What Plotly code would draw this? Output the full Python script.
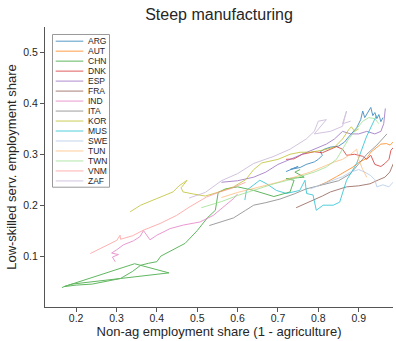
import plotly.graph_objects as go

countries = ["ARG", "AUT", "CHN", "DNK", "ESP", "FRA", "IND", "ITA", "KOR", "MUS",
             "SWE", "TUN", "TWN", "VNM", "ZAF"]
colors = ["#1f77b4", "#ff7f0e", "#2ca02c", "#d62728", "#9467bd", "#8c564b", "#e377c2",
          "#7f7f7f", "#bcbd22", "#17becf", "#aec7e8", "#ffbb78", "#98df8a", "#ff9896", "#c5b0d5"]

ARG_x = [0.72, 0.74, 0.75, 0.73, 0.755, 0.77, 0.79, 0.80, 0.81, 0.805, 0.815, 0.83, 0.85, 0.865,
         0.875, 0.885, 0.895, 0.905, 0.91, 0.915, 0.92, 0.925, 0.93, 0.935, 0.94, 0.945, 0.95, 0.955, 0.96]
ARG_y = [0.266, 0.272, 0.276, 0.270, 0.274, 0.280, 0.285, 0.290, 0.298, 0.305, 0.310, 0.314, 0.316, 0.324,
         0.334, 0.342, 0.352, 0.368, 0.385, 0.372, 0.378, 0.384, 0.392, 0.376, 0.382, 0.370, 0.378, 0.364, 0.372]

AUT_x = [0.80, 0.82, 0.845, 0.865, 0.886, 0.90, 0.91, 0.92, 0.93, 0.944, 0.955, 0.969, 0.978, 0.985]
AUT_y = [0.238, 0.245, 0.256, 0.266, 0.275, 0.284, 0.288, 0.292, 0.304, 0.314, 0.320, 0.321, 0.318, 0.324]

CHN_x = [0.165, 0.17, 0.345, 0.43, 0.31, 0.19, 0.17, 0.20, 0.24, 0.28, 0.31, 0.34, 0.36, 0.38, 0.40,
         0.41, 0.44, 0.47, 0.50, 0.525, 0.545, 0.548, 0.552, 0.57, 0.60, 0.64, 0.69, 0.73, 0.74,
         0.72, 0.765, 0.742, 0.755]
CHN_y = [0.038, 0.040, 0.085, 0.067, 0.056, 0.045, 0.040, 0.043, 0.045, 0.052, 0.056, 0.070, 0.082, 0.086,
         0.089, 0.100, 0.112, 0.125, 0.150, 0.175, 0.190, 0.205, 0.225, 0.232, 0.236, 0.229, 0.217,
         0.226, 0.249, 0.252, 0.255, 0.265, 0.270]

DNK_x = [0.72, 0.74, 0.76, 0.79, 0.81, 0.83, 0.845, 0.86, 0.87, 0.89, 0.91, 0.92, 0.93, 0.94,
         0.955, 0.965, 0.975, 0.98, 0.988]
DNK_y = [0.290, 0.291, 0.300, 0.305, 0.303, 0.310, 0.315, 0.310, 0.298, 0.300, 0.296, 0.290, 0.298,
         0.280, 0.276, 0.282, 0.290, 0.308, 0.315]

ESP_x = [0.56, 0.60, 0.64, 0.67, 0.70, 0.73, 0.76, 0.79, 0.82, 0.84, 0.86, 0.88, 0.90, 0.92,
         0.94, 0.955, 0.962, 0.966]
ESP_y = [0.245, 0.248, 0.255, 0.265, 0.280, 0.290, 0.300, 0.310, 0.320, 0.330, 0.345, 0.340, 0.340,
         0.345, 0.340, 0.345, 0.360, 0.390]

FRA_x = [0.745, 0.76, 0.788, 0.81, 0.83, 0.87, 0.90, 0.928, 0.95, 0.965, 0.977, 0.986]
FRA_y = [0.195, 0.200, 0.210, 0.218, 0.226, 0.236, 0.238, 0.242, 0.250, 0.255, 0.265, 0.282]

IND_x = [0.297, 0.29, 0.305, 0.288, 0.30, 0.317, 0.342, 0.358, 0.367, 0.383, 0.40, 0.433, 0.466,
         0.507, 0.54, 0.573, 0.59, 0.60]
IND_y = [0.089, 0.098, 0.103, 0.106, 0.112, 0.122, 0.130, 0.138, 0.150, 0.132, 0.141, 0.154, 0.161,
         0.167, 0.180, 0.203, 0.213, 0.222]

ITA_x = [0.53, 0.56, 0.59, 0.62, 0.64, 0.67, 0.705, 0.74, 0.77, 0.81, 0.85, 0.88, 0.90, 0.92,
         0.945, 0.96, 0.97]
ITA_y = [0.160, 0.168, 0.175, 0.190, 0.200, 0.205, 0.212, 0.222, 0.232, 0.240, 0.248, 0.262, 0.280,
         0.300, 0.318, 0.330, 0.340]

KOR_x = [0.334, 0.36, 0.40, 0.44, 0.455, 0.475, 0.46, 0.465, 0.49, 0.52, 0.55, 0.59, 0.62, 0.64,
         0.66, 0.70, 0.73, 0.755, 0.78, 0.81, 0.84, 0.86, 0.875, 0.882, 0.89, 0.90]
KOR_y = [0.187, 0.200, 0.213, 0.226, 0.238, 0.249, 0.234, 0.226, 0.222, 0.218, 0.225, 0.236, 0.250,
         0.270, 0.283, 0.290, 0.300, 0.304, 0.304, 0.308, 0.314, 0.330, 0.348, 0.354, 0.345, 0.350]

MUS_x = [0.618, 0.622, 0.655, 0.672, 0.696, 0.721, 0.754, 0.767, 0.771, 0.787, 0.795, 0.812,
         0.837, 0.853, 0.87, 0.895, 0.919, 0.936, 0.944]
MUS_y = [0.210, 0.229, 0.249, 0.242, 0.229, 0.223, 0.229, 0.249, 0.223, 0.220, 0.190, 0.200,
         0.200, 0.206, 0.249, 0.282, 0.334, 0.365, 0.376]

SWE_x = [0.78, 0.80, 0.83, 0.86, 0.88, 0.90, 0.915, 0.93, 0.94, 0.945, 0.96, 0.975, 0.985, 0.99]
SWE_y = [0.232, 0.238, 0.246, 0.256, 0.265, 0.270, 0.265, 0.258, 0.250, 0.236, 0.240, 0.236, 0.245, 0.250]

TUN_x = [0.56, 0.60, 0.65, 0.70, 0.74, 0.78, 0.81, 0.84, 0.86, 0.88, 0.895, 0.90, 0.91, 0.92]
TUN_y = [0.215, 0.225, 0.235, 0.245, 0.255, 0.265, 0.275, 0.285, 0.290, 0.300, 0.310, 0.290, 0.270, 0.255]

TWN_x = [0.51, 0.53, 0.56, 0.60, 0.65, 0.69, 0.73, 0.76, 0.79, 0.82, 0.845, 0.86, 0.875, 0.895,
         0.91, 0.925, 0.94, 0.95]
TWN_y = [0.195, 0.200, 0.207, 0.219, 0.232, 0.242, 0.250, 0.258, 0.265, 0.275, 0.290, 0.310, 0.330,
         0.350, 0.365, 0.372, 0.370, 0.360]

VNM_x = [0.235, 0.27, 0.301, 0.309, 0.31, 0.34, 0.358, 0.367, 0.408, 0.449, 0.482, 0.523, 0.556,
         0.581, 0.62]
VNM_y = [0.105, 0.118, 0.131, 0.141, 0.133, 0.140, 0.148, 0.151, 0.164, 0.180, 0.197, 0.216, 0.226,
         0.232, 0.245]

ZAF_x = [0.48, 0.52, 0.56, 0.60, 0.64, 0.69, 0.73, 0.77, 0.79, 0.80, 0.82, 0.79, 0.83, 0.86,
         0.87, 0.86, 0.88]
ZAF_y = [0.214, 0.225, 0.248, 0.262, 0.282, 0.296, 0.310, 0.330, 0.345, 0.365, 0.368, 0.340, 0.345,
         0.355, 0.385, 0.360, 0.365]

series_x = [ARG_x, AUT_x, CHN_x, DNK_x, ESP_x, FRA_x, IND_x, ITA_x, KOR_x, MUS_x,
            SWE_x, TUN_x, TWN_x, VNM_x, ZAF_x]
series_y = [ARG_y, AUT_y, CHN_y, DNK_y, ESP_y, FRA_y, IND_y, ITA_y, KOR_y, MUS_y,
            SWE_y, TUN_y, TWN_y, VNM_y, ZAF_y]

x_ticks = [0.2, 0.3, 0.4, 0.5, 0.6, 0.7, 0.8, 0.9]
y_ticks = [0.1, 0.2, 0.3, 0.4, 0.5]

W, H = 396, 341
L, R, T, B = 45, 3, 26.5, 34
pw, ph = W - L - R, H - T - B

fig = go.Figure()
for name, c, xs, ys in zip(countries, colors, series_x, series_y):
    fig.add_trace(go.Scatter(x=xs, y=ys, mode="lines", name=name,
                             line=dict(color=c, width=1), opacity=0.75, showlegend=False))

def px2paper(px, py):
    return (px - L) / pw, (H - B - py) / ph

shapes = []
annotations = []
x0, y0 = px2paper(52.5, 187)
x1, y1 = px2paper(109.5, 34)
shapes.append(dict(type="rect", xref="paper", yref="paper", x0=x0, y0=y0, x1=x1, y1=y1,
                   line=dict(color="#999999", width=1), fillcolor="white", layer="above"))
for i, (name, c) in enumerate(zip(countries, colors)):
    py = 40.7 + 10 * i
    lx0, ly = px2paper(55.7, py)
    lx1, _ = px2paper(83.3, py)
    shapes.append(dict(type="line", xref="paper", yref="paper", x0=lx0, x1=lx1, y0=ly, y1=ly,
                       line=dict(color=c, width=1), opacity=0.75, layer="above"))
    tx, _ = px2paper(86, py)
    annotations.append(dict(text=name, xref="paper", yref="paper", x=tx, y=ly,
                            xanchor="left", yanchor="middle", showarrow=False,
                            font=dict(size=8.5, color="#262626")))

fig.update_layout(
    width=W, height=H,
    margin=dict(l=L, r=R, t=T, b=B, autoexpand=False),
    plot_bgcolor="white", paper_bgcolor="white",
    font=dict(family="Liberation Sans, Arial, sans-serif", color="#262626"),
    title=dict(text="Steep manufacturing", x=(L + pw / 2) / W, xanchor="center",
               y=1 - 14 / H, yanchor="middle", font=dict(size=16, color="#262626")),
    shapes=shapes, annotations=annotations,
    xaxis=dict(range=[0.123, 0.985], tickvals=x_ticks, ticktext=[f"{v:.1f}" for v in x_ticks],
               automargin=False,
               showgrid=False, zeroline=False, showline=True, linecolor="#555555", linewidth=1,
               ticks="outside", ticklen=4, tickcolor="#555555", tickfont=dict(size=10.5),
               ticklabelstandoff=-3,
               title=dict(text="Non-ag employment share (1 - agriculture)", font=dict(size=13),
                          standoff=2)),
    yaxis=dict(range=[0, 0.55], tickvals=y_ticks, ticktext=[f"{v:.1f}" for v in y_ticks],
               automargin=False,
               showgrid=False, zeroline=False, showline=True, linecolor="#555555", linewidth=1,
               ticks="outside", ticklen=4, tickcolor="#555555", tickfont=dict(size=10.5),
               title=dict(text="Low-skilled serv. employment share", font=dict(size=13),
                          standoff=3)),
)

fig.write_html("out.html", config={"displayModeBar": False},
               post_script="document.body.style.margin='0';document.body.style.padding='0';")
